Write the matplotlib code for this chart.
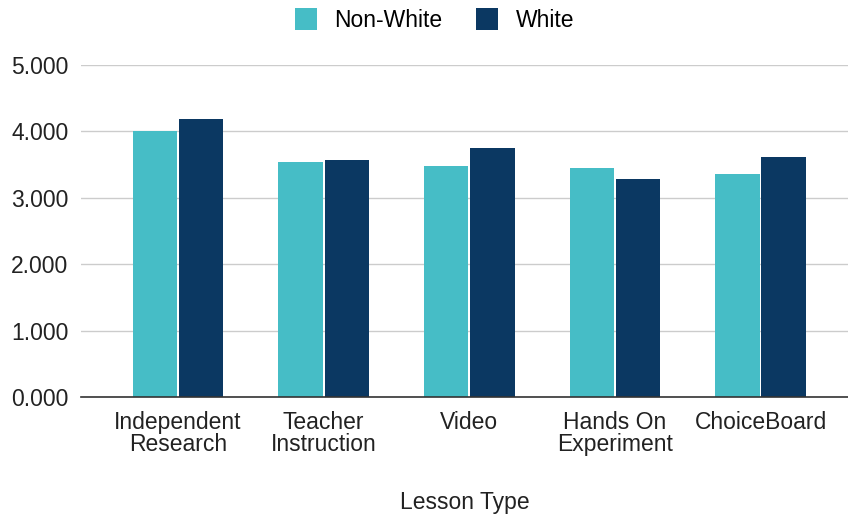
import numpy as np
import matplotlib
matplotlib.use("Agg")
import matplotlib.pyplot as plt

plt.rcParams['font.family'] = ['Liberation Sans', 'DejaVu Sans']

categories = ["Independent\nResearch", "Teacher\nInstruction", "Video",
              "Hands On\nExperiment", "ChoiceBoard"]
non_white = [4.01, 3.535, 3.48, 3.45, 3.36]
white = [4.19, 3.57, 3.75, 3.28, 3.62]

teal = '#46BDC6'
navy = '#0B3862'

fig = plt.figure(figsize=(8.48, 5.15), dpi=100)
ax = fig.add_axes([0.0955, 0.229, 0.9045, 0.645])

x = np.arange(len(categories))
w = 0.305
gap = 0.006
ax.bar(x - w / 2 - gap, non_white, width=w, color=teal, label='Non-White', zorder=3)
ax.bar(x + w / 2 + gap, white, width=w, color=navy, label='White', zorder=3)

ax.set_ylim(0, 5)
ax.set_xlim(-0.667, 4.6)
ax.set_yticks(np.arange(0, 6, 1))
ax.set_yticklabels([f'{v:.3f}' for v in range(6)], fontsize=16.5, color='#222222')
ax.set_xticks(x)
ax.set_xticklabels(categories, fontsize=16.5, color='#222222', linespacing=0.95)
ax.tick_params(axis='x', length=0, pad=10)
ax.tick_params(axis='y', length=0, pad=9)

ax.grid(axis='y', color='#cccccc', linewidth=1, zorder=0)
for s in ['top', 'right', 'left']:
    ax.spines[s].set_visible(False)
ax.spines['bottom'].set_color('#333333')
ax.spines['bottom'].set_linewidth(1.2)
ax.spines['bottom'].set_zorder(4)

ax.set_xlabel('Lesson Type', fontsize=16.5, color='#222222', labelpad=25)

ax.legend(loc='center', bbox_to_anchor=((434.5 / 848 - 0.0955) / 0.9045, 1.135),
          ncol=2, frameon=False, fontsize=16.5, handlelength=0.95, handleheight=1.1,
          handletextpad=0.75, columnspacing=1.5)

fig.savefig('out.png', dpi=100, facecolor='white')
